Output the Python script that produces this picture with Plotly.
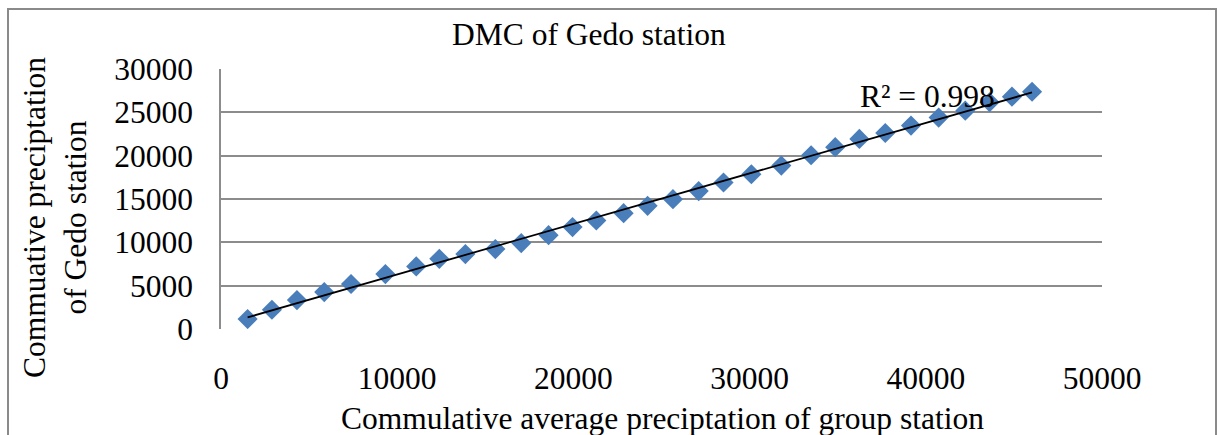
import numpy as np
import plotly.graph_objects as go

# Double mass curve: cumulative average precipitation of the station group
# against cumulative precipitation of Gedo station
group_cumulative = [1510, 2890, 4310, 5860, 7380, 9330, 11080, 12390, 13870, 15570,
                    17040, 18590, 19950, 21300, 22850, 24210, 25650, 27110, 28520, 30100,
                    31800, 33490, 34860, 36230, 37700, 39160, 40730, 42240, 43620, 44890,
                    46030]
gedo_cumulative = [1150, 2220, 3340, 4260, 5190, 6340, 7220, 8100, 8640, 9220,
                   9910, 10830, 11760, 12520, 13370, 14210, 14980, 15910, 16900, 17860,
                   18860, 20050, 20980, 21930, 22620, 23470, 24390, 25190, 26160, 26810,
                   27380]
x_ticks = [0, 10000, 20000, 30000, 40000, 50000]
y_ticks = [0, 5000, 10000, 15000, 20000, 25000, 30000]
r_squared = 0.998

chart_title = "DMC of Gedo station"
x_title = "Commulative average preciptation of group station"
y_title = "Commuative preciptation<br>of Gedo station"

FONT = "Liberation Serif, Times New Roman, serif"
FS = 31.5
GRID = "#8c8c8c"
BLUE = "#4a7ebb"

xs = np.array(group_cumulative, dtype=float)
ys = np.array(gedo_cumulative, dtype=float)
slope, intercept = np.polyfit(xs, ys, 1)
trend_x = np.array([xs.min(), xs.max()])
trend_y = slope * trend_x + intercept

W, H = 1217, 435
L, R, T, B = 221, 115, 69, 106
pw, ph = W - L - R, H - T - B


def px_x(p):
    return (p - L) / pw


def px_y(p):
    return (H - B - p) / ph


fig = go.Figure()
fig.add_trace(go.Scatter(
    x=group_cumulative, y=gedo_cumulative, mode="markers",
    marker=dict(symbol="diamond", size=15.5, color=BLUE, line=dict(width=0)),
    showlegend=False, hoverinfo="skip",
))
fig.add_trace(go.Scatter(
    x=trend_x, y=trend_y, mode="lines",
    line=dict(color="black", width=1.8),
    showlegend=False, hoverinfo="skip",
))

fig.update_layout(
    width=W, height=H,
    margin=dict(l=L, r=R, t=T, b=B, pad=0),
    paper_bgcolor="white", plot_bgcolor="white",
    font=dict(family=FONT, size=FS, color="black"),
    showlegend=False,
)
fig.update_xaxes(
    range=[0, 50000], tickvals=x_ticks, ticktext=[str(v) for v in x_ticks],
    showgrid=False, zeroline=False, showline=False,
    ticks="", ticklabelstandoff=27,
)
fig.update_yaxes(
    range=[0, 30000], tickvals=y_ticks, ticktext=[str(v) for v in y_ticks],
    showgrid=True, gridcolor=GRID, gridwidth=1.6,
    zeroline=False, showline=True, linecolor=GRID, linewidth=1.6,
    ticks="", ticklabelstandoff=20,
)

annotations = [
    dict(text=chart_title, x=px_x(589), y=px_y(34), xanchor="center", yanchor="middle"),
    dict(text=x_title, x=px_x(662), y=px_y(418), xanchor="center", yanchor="middle"),
    dict(text=y_title, x=px_x(55), y=px_y(218), xanchor="center", yanchor="middle",
         textangle=-90),
    dict(text=f"R\u00b2 = {r_squared:.3f}", x=px_x(858), y=px_y(97),
         xanchor="left", yanchor="middle"),
]
for a in annotations:
    a.update(xref="paper", yref="paper", showarrow=False,
             font=dict(family=FONT, size=FS, color="black"))
fig.update_layout(annotations=annotations)

# outer chart frame
fig.add_shape(type="rect", xref="paper", yref="paper",
              x0=px_x(8), x1=px_x(1216), y0=px_y(445), y1=px_y(9),
              line=dict(color="#8a8a8a", width=2), fillcolor="rgba(0,0,0,0)",
              layer="below")

fig.write_html("out.html")
